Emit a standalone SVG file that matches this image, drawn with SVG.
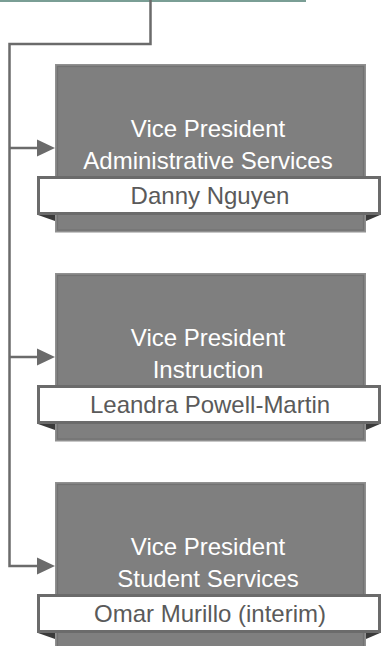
<svg xmlns="http://www.w3.org/2000/svg" width="381" height="646" viewBox="0 0 381 646">
<style>
.box{fill:#7f7f7f;stroke:#909090;stroke-width:1.5}
.inner{fill:none;stroke:#727272;stroke-width:1.2}
.banner{fill:#ffffff;stroke:#6b6b6b;stroke-width:3}
.fold{fill:#3a3a3a}
.title{font-family:"Liberation Sans",Arial,sans-serif;font-size:24px;fill:#ffffff;text-anchor:middle}
.name{font-family:"Liberation Sans",Arial,sans-serif;font-size:24px;fill:#5a5a5a;text-anchor:middle}
.conn{fill:none;stroke:#6b6b6b;stroke-width:2.5}
.head{fill:#6b6b6b}
</style>
<rect x="0" y="0" width="306" height="2" fill="#7a9e95"/>
<g id="connectors">
<polyline class="conn" points="150.5,0 150.5,44 9.5,44 9.5,566 37,566"/>
<line class="conn" x1="9.5" y1="148" x2="38" y2="148"/>
<line class="conn" x1="9.5" y1="357" x2="38" y2="357"/>
<polygon class="head" points="37,139.5 55,148 37,156.5"/>
<polygon class="head" points="37,348.5 55,357 37,365.5"/>
<polygon class="head" points="37,557.5 55,566 37,574.5"/>
</g>
<g id="node-admin">
<rect class="box" x="55.75" y="64.75" width="309.5" height="167"/>
<rect class="inner" x="57.5" y="66.5" width="306" height="163.5"/>
<polygon class="fold" points="38,215 55,215 55,221"/>
<polygon class="fold" points="366,215 380,215 366,221"/>
<rect class="banner" x="38.5" y="177.5" width="341" height="36"/>
<text class="title" x="208" y="137">Vice President</text>
<text class="title" x="208" y="169">Administrative Services</text>
<text class="name" x="210" y="204">Danny Nguyen</text>
</g>
<g id="node-instruction">
<rect class="box" x="55.75" y="273.75" width="309.5" height="167"/>
<rect class="inner" x="57.5" y="275.5" width="306" height="163.5"/>
<polygon class="fold" points="38,424 55,424 55,430"/>
<polygon class="fold" points="366,424 380,424 366,430"/>
<rect class="banner" x="38.5" y="386.5" width="341" height="36"/>
<text class="title" x="208" y="346">Vice President</text>
<text class="title" x="208" y="378">Instruction</text>
<text class="name" x="210" y="413">Leandra Powell-Martin</text>
</g>
<g id="node-student">
<rect class="box" x="55.75" y="482.75" width="309.5" height="167"/>
<rect class="inner" x="57.5" y="484.5" width="306" height="163.5"/>
<polygon class="fold" points="38,633 55,633 55,639"/>
<polygon class="fold" points="366,633 380,633 366,639"/>
<rect class="banner" x="38.5" y="595.5" width="341" height="36"/>
<text class="title" x="208" y="555">Vice President</text>
<text class="title" x="208" y="587">Student Services</text>
<text class="name" x="210" y="622">Omar Murillo (interim)</text>
</g>
</svg>
